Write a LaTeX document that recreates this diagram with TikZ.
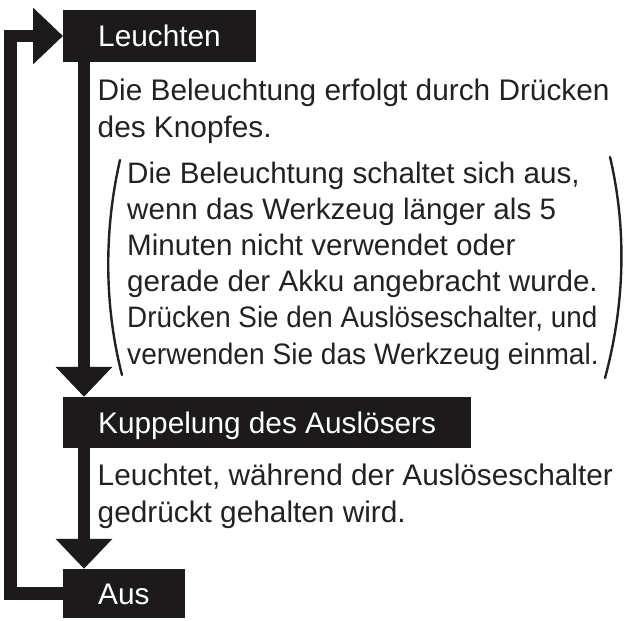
\documentclass[tikz,border=0pt]{standalone}
\usepackage{graphicx}
\usepackage{fontspec}
\setmainfont{Liberation Sans}
\usetikzlibrary{arrows.meta}
\definecolor{boxblk}{HTML}{1C1A1B}
\definecolor{txtgray}{HTML}{222222}
\tikzset{
  headbox/.style={fill=boxblk, text=white, anchor=west, inner xsep=35pt, inner ysep=0pt,
    text height=21pt, text depth=0pt, font=\fontsize{29.8}{37}\selectfont},
  bodytext/.style={anchor=base west, align=left, inner sep=0pt, text=txtgray,
    font=\fontsize{29.8}{37}\selectfont},
  notetext/.style={anchor=base west, align=left, inner sep=0pt, text=txtgray,
    font=\fontsize{29.6}{36.2}\selectfont},
  flowarrow/.style={draw=boxblk, line width=12pt, line join=miter,
    -{Triangle[length=30pt,width=55pt]}},
  looparrow/.style={draw=boxblk, line width=12.5pt, line join=miter,
    -{Triangle[length=30pt,width=55pt]}},
  paren/.style={draw=txtgray, line width=2.4pt, line cap=round}
}
\begin{document}
\begin{tikzpicture}[x=1pt,y=-1pt]
\useasboundingbox (0,0) rectangle (625,621);
% boxes
\node[headbox, minimum height=52pt] (L) at (63,36) {Leuchten};
\node[headbox, minimum height=51pt] (K) at (63,422.5) {Kuppelung des Auslösers};
\node[headbox, minimum height=49pt] (A) at (63,593.5) {Aus};
% texts (anchored at the baseline of the last line)
\node[bodytext] (t1) at (97.5,137) {Die Beleuchtung erfolgt durch Drücken\\des Knopfes.};
\node[notetext] (t2) at (127,364) {Die Beleuchtung schaltet sich aus,\\wenn das Werkzeug länger als 5\\Minuten nicht verwendet oder\\gerade der Akku angebracht wurde.\\\scalebox{0.94}[1]{Drücken Sie den Auslöseschalter, und}\\\scalebox{0.95}[1]{verwenden Sie das Werkzeug einmal.}};
\node[bodytext] (t3) at (97.5,522) {Leuchtet, während der Auslöseschalter\\gedrückt gehalten wird.};
% parentheses
\draw[paren] (120,160) .. controls (104,230) and (104,305) .. (122,375);
\draw[paren] (610,157) .. controls (626,225) and (626,300) .. (605,378);
% connectors
\coordinate (col) at (84,0);
\coordinate (outer) at (10.5,0);
\draw[flowarrow] (L.south -| col) -- (K.north -| col);
\draw[flowarrow] (K.south -| col) -- (A.north -| col);
\draw[looparrow] (A.west) -- (A.west -| outer) -- (L.west -| outer) -- (L.west);
\end{tikzpicture}
\end{document}
